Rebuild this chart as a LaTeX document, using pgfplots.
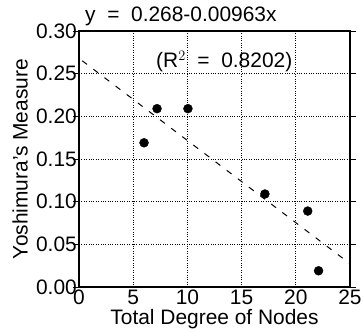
\documentclass[border=0pt]{standalone}
\usepackage{pgfplots}
\pgfplotsset{compat=1.18}
\usepackage{fontspec}
\setmainfont{Liberation Sans}
\begin{document}
\begin{tikzpicture}[font=\fontsize{21}{23}\selectfont]
\begin{axis}[
  scale only axis,
  width=271bp, height=256bp,
  xmin=0, xmax=25, ymin=0, ymax=0.30,
  xtick={0,5,10,15,20,25},
  ytick={0,0.05,0.10,0.15,0.20,0.25,0.30},
  yticklabel style={inner sep=0pt, xshift=4bp, /pgf/number format/.cd,fixed,fixed zerofill,precision=2},
  /pgf/number format/assume math mode=true,
  tick label style={font=\fontsize{21}{23}\selectfont},
  label style={font=\fontsize{21}{23}\selectfont},
  grid=major,
  major grid style={black, dotted, line width=1pt},
  axis line style={black, line width=1.6pt},
  tick align=outside,
  major tick length=6bp,
  ytick style={black, line width=1pt},
  xtick style={draw=none},
  xticklabel style={inner sep=0pt, yshift=3bp},
  xlabel={Total Degree of Nodes},
  ylabel={Yoshimura's Measure},
  xlabel style={inner sep=0pt, at={(axis description cs:0.5,0)}, anchor=north, yshift=-22bp},
  ylabel style={inner sep=0pt, at={(axis description cs:0,0.5)}, anchor=south, yshift=51bp},
  title={y\ \ =\ \ 0.268-0.00963x},
  title style={font=\fontsize{21}{23}\selectfont, inner sep=0pt, at={(axis description cs:0.376,1)}, anchor=base, yshift=4bp},
  clip=false,
]
\addplot[only marks, mark=*, mark size=4.5pt, black] coordinates {
  (6,0.169) (7.2,0.209) (10.05,0.209) (17.15,0.109) (21.1,0.089) (22.1,0.019)
};
\addplot[black, line width=1pt, dash pattern=on 6pt off 8pt] coordinates {(0.3,0.2651) (25,0.02725)};
\node[anchor=center, inner sep=0pt, font=\fontsize{21}{23}\selectfont] at (axis cs:13.4,0.264) {(R$^{2}$\ \ =\ \ 0.8202)};
\end{axis}
\path (current axis.south west) ++(-79bp,-45bp) coordinate (A);
\path (current axis.north east) ++(13bp,31bp) coordinate (B);
\pgfresetboundingbox
\path (A) rectangle (B);
\end{tikzpicture}
\end{document}
